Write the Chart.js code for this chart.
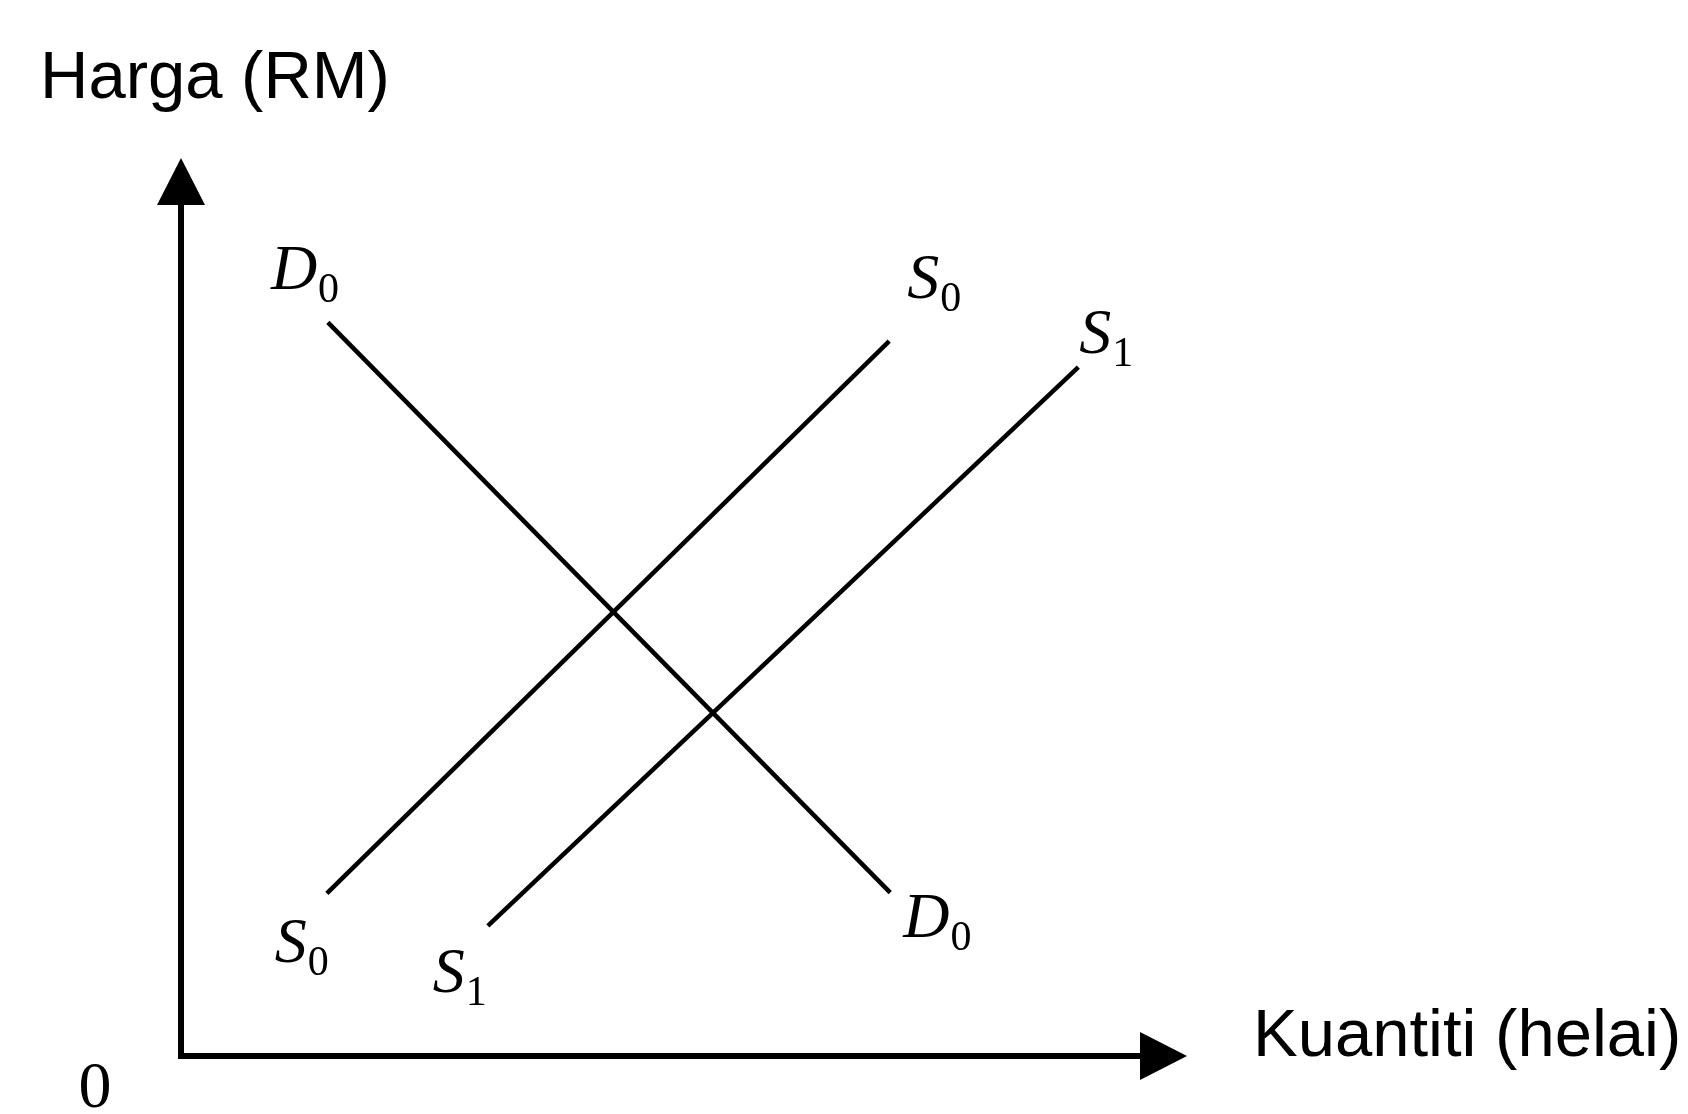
<!DOCTYPE html>
<html><head><meta charset="utf-8">
<script src="https://cdn.jsdelivr.net/npm/chart.js@4"></script>
<style>html,body{margin:0;padding:0;background:#fff;overflow:hidden}canvas{display:block}</style>
</head><body>
<canvas id="c" width="1688" height="1114"></canvas>
<script>
// ---- data ----
const curveNames = ['D', 'S', 'S'];
const curveSubs = ['0', '0', '1'];
const curveQuantity = [[14.6, 70.5], [14.5, 70.4], [30.5, 89.2]];
const curvePrice = [[81.7, 18.2], [18.1, 79.6], [14.5, 76.7]];
const axisTitleY = 'Harga (RM)';
const axisTitleX = 'Kuantiti (helai)';
const originLabel = '0';

// ---- label placement (pixel offsets from each line end) ----
const labelOffsets = [
  [[-57, -33], [13, 44]],
  [[-52, 69], [18, -43]],
  [[-55, 66], [1, -14]]
];

const datasets = curveNames.map((n, i) => ({
  label: n + curveSubs[i],
  data: curveQuantity[i].map((q, j) => ({x: q, y: curvePrice[i][j]})),
  showLine: true,
  borderColor: '#000',
  borderWidth: 4.5,
  borderCapStyle: 'butt',
  pointRadius: 0,
  fill: false
}));

const diagramPlugin = {
  id: 'diagram',
  beforeDraw(chart) {
    const ctx = chart.ctx;
    ctx.save();
    ctx.fillStyle = '#fff';
    ctx.fillRect(0, 0, chart.width, chart.height);
    ctx.restore();
  },
  afterDraw(chart) {
    const ctx = chart.ctx;
    const xs = chart.scales.x, ys = chart.scales.y;
    const x0 = xs.getPixelForValue(0), y0 = ys.getPixelForValue(0);
    const xEnd = xs.getPixelForValue(xs.max), yEnd = ys.getPixelForValue(ys.max);
    const ah = 47, aw = 24;
    ctx.save();
    ctx.strokeStyle = '#000';
    ctx.fillStyle = '#000';
    ctx.lineWidth = 6;
    ctx.lineCap = 'butt';
    ctx.beginPath();
    ctx.moveTo(x0, yEnd + ah - 1);
    ctx.lineTo(x0, y0);
    ctx.lineTo(xEnd - ah + 1, y0);
    ctx.stroke();
    // arrow heads
    ctx.beginPath();
    ctx.moveTo(x0, yEnd);
    ctx.lineTo(x0 - aw, yEnd + ah);
    ctx.lineTo(x0 + aw, yEnd + ah);
    ctx.closePath();
    ctx.fill();
    ctx.beginPath();
    ctx.moveTo(xEnd, y0);
    ctx.lineTo(xEnd - ah, y0 - aw);
    ctx.lineTo(xEnd - ah, y0 + aw);
    ctx.closePath();
    ctx.fill();

    // axis titles
    ctx.textBaseline = 'alphabetic';
    ctx.textAlign = 'left';
    ctx.font = '67px "Liberation Sans", Arial, sans-serif';
    ctx.fillText(axisTitleY, 40, 98);
    ctx.fillText(axisTitleX, xEnd + 66, y0);
    ctx.font = '66px "Liberation Serif", serif';
    ctx.textAlign = 'center';
    ctx.fillText(originLabel, x0 - 86, y0 + 51);

    // curve labels
    ctx.textAlign = 'left';
    chart.data.datasets.forEach((ds, i) => {
      const meta = chart.getDatasetMeta(i);
      meta.data.forEach((pt, j) => {
        const off = labelOffsets[i][j];
        const lx = pt.x + off[0], ly = pt.y + off[1];
        ctx.font = 'italic 64px "Liberation Serif", serif';
        ctx.fillText(curveNames[i], lx, ly);
        const w = ctx.measureText(curveNames[i]).width;
        ctx.font = '42px "Liberation Serif", serif';
        ctx.fillText(curveSubs[i], lx + w + 1, ly + 13);
      });
    });
    ctx.restore();
  }
};

new Chart(document.getElementById('c'), {
  type: 'scatter',
  data: { datasets },
  options: {
    responsive: false,
    animation: false,
    devicePixelRatio: 1,
    layout: { padding: { left: 181, right: 501, top: 158, bottom: 58 } },
    plugins: { legend: { display: false }, tooltip: { enabled: false } },
    scales: {
      x: { type: 'linear', min: 0, max: 100, display: false },
      y: { type: 'linear', min: 0, max: 100, display: false }
    }
  },
  plugins: [diagramPlugin]
});
</script>
</body></html>
